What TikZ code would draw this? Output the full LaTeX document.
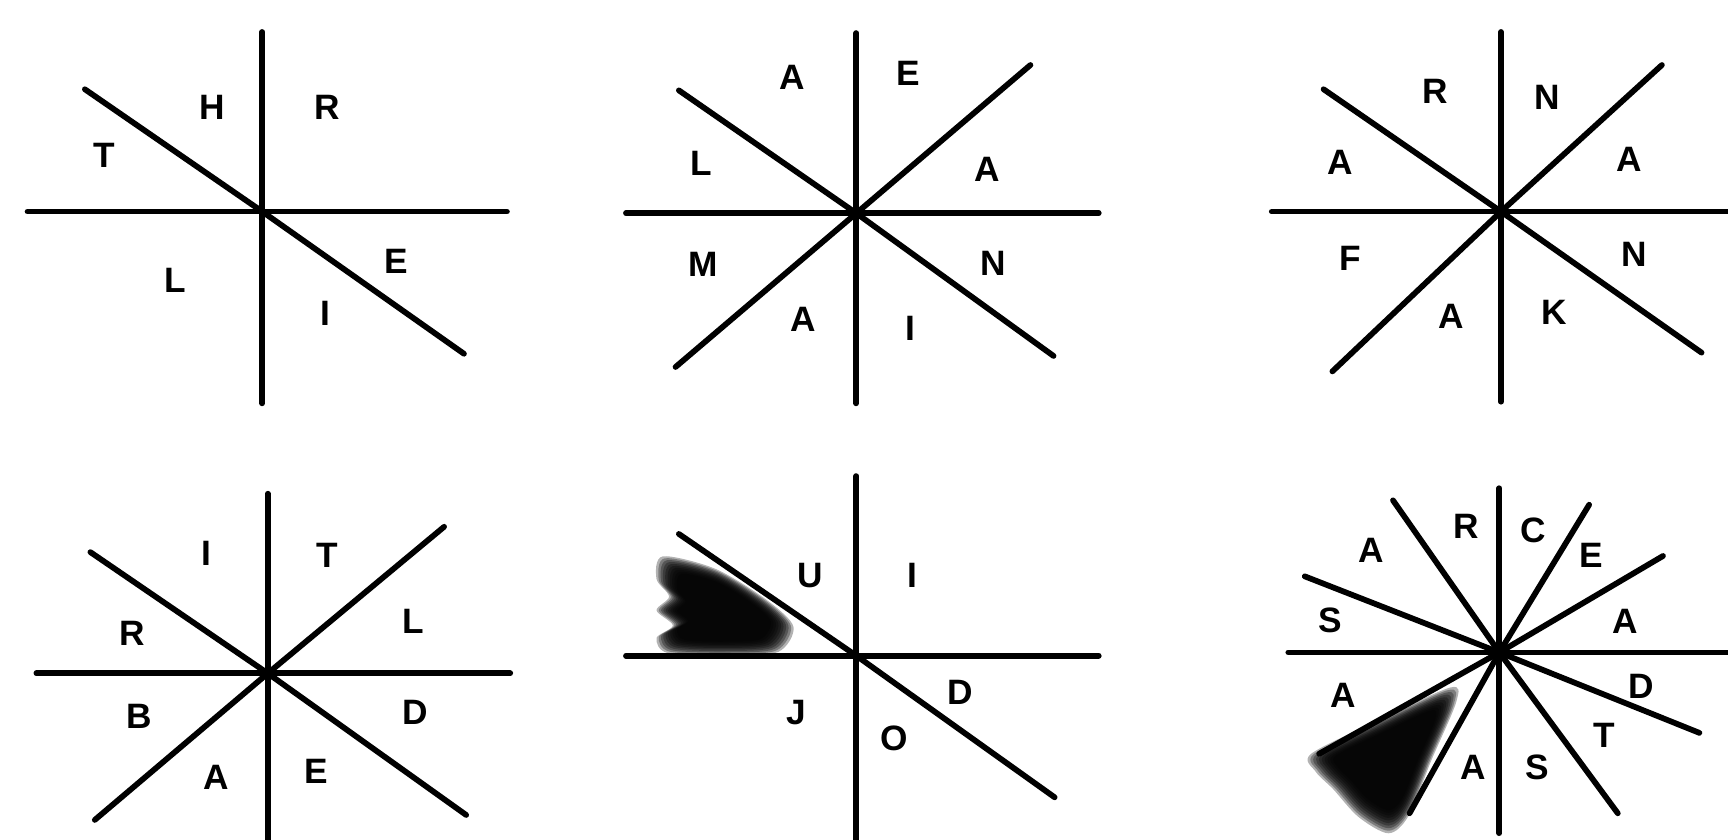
\documentclass[tikz,border=0pt]{standalone}
\usepackage{fontspec}
\setmainfont{Liberation Sans}
\begin{document}
\begin{tikzpicture}[x=1pt,y=-1pt,
  ln/.style={line width=5.2pt,line cap=round,black},
  lt/.style={font=\fontsize{32}{32}\selectfont\bfseries,inner sep=0pt,anchor=center}]
\useasboundingbox[fill=white] (0,0) rectangle (1568,762);
% ---------- Panel 1 ----------
\coordinate (c1) at (238,192);
\draw[ln] (238,29) -- (c1) -- (238,366);
\draw[ln] (25,192) -- (c1) -- (460,192);
\draw[ln] (77,81) -- (c1) -- (421,321);
\node[lt] (p1T) at (95,141) {T};
\node[lt] (p1H) at (193,97) {H};
\node[lt] (p1R) at (297,97) {R};
\node[lt] (p1E) at (360,237) {E};
\node[lt] (p1L) at (159,254) {L};
\node[lt] (p1I) at (295,284) {I};
% ---------- Panel 2 ----------
\coordinate (c2) at (777,193.5);
\draw[ln] (777,30) -- (c2) -- (777,366);
\draw[ln] (568,193.5) -- (c2) -- (997,193.5);
\draw[ln] (616,82) -- (c2) -- (956,323);
\draw[ln] (613,333) -- (c2) -- (935,59);
\node[lt] (p2A1) at (719,70) {A};
\node[lt] (p2E) at (824,67) {E};
\node[lt] (p2L) at (636,148) {L};
\node[lt] (p2A2) at (896,154) {A};
\node[lt] (p2M) at (638,240) {M};
\node[lt] (p2N) at (901,239) {N};
\node[lt] (p2A3) at (729,290) {A};
\node[lt] (p2I) at (826,298) {I};
% ---------- Panel 3 ----------
\coordinate (c3) at (1362,192);
\draw[ln] (1362,29) -- (c3) -- (1362,364.5);
\draw[ln] (1154,192) -- (c3) -- (1575,192);
\draw[ln] (1201,81) -- (c3) -- (1544,320);
\draw[ln] (1209,337) -- (c3) -- (1508,59);
\node[lt] (p3R) at (1302,83) {R};
\node[lt] (p3N1) at (1404,88) {N};
\node[lt] (p3A1) at (1216,147) {A};
\node[lt] (p3A2) at (1478,145) {A};
\node[lt] (p3F) at (1225,234) {F};
\node[lt] (p3N2) at (1483,231) {N};
\node[lt] (p3A3) at (1317,287) {A};
\node[lt] (p3K) at (1410,283) {K};
% ---------- Panel 4 ----------
\coordinate (c4) at (243,611);
\draw[ln] (243,448) -- (c4) -- (243,772);
\draw[ln] (33,611) -- (c4) -- (463,611);
\draw[ln] (82,501) -- (c4) -- (423,739.5);
\draw[ln] (86,744) -- (c4) -- (403,478);
\node[lt] (p4I) at (187,502) {I};
\node[lt] (p4T) at (297,504) {T};
\node[lt] (p4R) at (120,575) {R};
\node[lt] (p4L) at (375,564) {L};
\node[lt] (p4B) at (126,650) {B};
\node[lt] (p4D) at (377,646) {D};
\node[lt] (p4A) at (196,705) {A};
\node[lt] (p4E) at (287,700) {E};
% ---------- Panel 5 ----------
\coordinate (c5) at (777,595);
\foreach \s in {1.14,1.10,...,0.78}
  \fill[black,opacity=0.3,shift={(655,555)},scale=\s] plot[smooth cycle] coordinates {(-47,-44) (-5,-34) (36,-9) (57,12) (45,32) (5,35) (-43,33) (-52,21) (-39,11) (-52,-1) (-42,-12) (-52,-26)};
\draw[ln] (777,432) -- (c5) -- (777,772);
\draw[ln] (568,595) -- (c5) -- (997,595);
\draw[ln] (616,484.5) -- (c5) -- (957,723.5);
\node[lt] (p5U) at (735,522) {U};
\node[lt] (p5I) at (828,522) {I};
\node[lt] (p5D) at (871,628) {D};
\node[lt] (p5J) at (723,647) {J};
\node[lt] (p5O) at (811,670) {O};
% ---------- Panel 6 ----------
\coordinate (c6) at (1360.5,592);
\foreach \s in {1.14,1.10,...,0.78}
  \fill[black,opacity=0.3,shift={(1260,690)},scale=\s] plot[smooth cycle] coordinates {(-62,-5) (-10,-31) (49,-58) (54,-47) (34,0) (16,44) (0,58) (-24,45) (-44,23) (-58,9)};
\draw[ln] (1360.5,443) -- (c6) -- (1360.5,756);
\draw[ln] (1169,592) -- (c6) -- (1575,592);
\draw[ln] (1264,454) -- (c6) -- (1468,738);
\draw[ln] (1442,458) -- (c6) -- (1279,738);
\draw[ln] (1184,523) -- (c6) -- (1542,665);
\draw[ln] (1509,504.5) -- (c6) -- (1197,684);
\node[lt] (p6A1) at (1244,499) {A};
\node[lt] (p6R) at (1330,478) {R};
\node[lt] (p6C) at (1391,481) {C};
\node[lt] (p6E) at (1444,504) {E};
\node[lt] (p6S1) at (1207,563) {S};
\node[lt] (p6A2) at (1475,564) {A};
\node[lt] (p6A3) at (1219,631) {A};
\node[lt] (p6D) at (1489,623) {D};
\node[lt] (p6T) at (1456,667) {T};
\node[lt] (p6S2) at (1395,696) {S};
\node[lt] (p6A4) at (1337,696) {A};
\end{tikzpicture}
\end{document}
